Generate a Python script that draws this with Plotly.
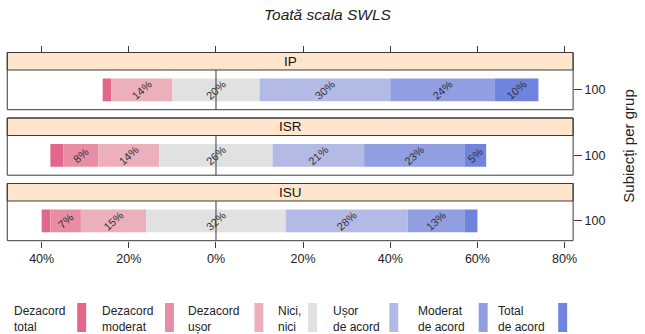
import plotly.graph_objects as go

# ---- data -----------------------------------------------------------------
groups = ["IP", "ISR", "ISU"]
levels = ["Dezacord total", "Dezacord moderat", "Dezacord ușor", "Nici, nici",
          "Ușor de acord", "Moderat de acord", "Total de acord"]
legend_lines = [("Dezacord", "total"), ("Dezacord", "moderat"), ("Dezacord", "ușor"),
                ("Nici,", "nici"), ("Ușor", "de acord"), ("Moderat", "de acord"),
                ("Total", "de acord")]
pct_ip = [2, 0, 14, 20, 30, 24, 10]
pct_isr = [3, 8, 14, 26, 21, 23, 5]
pct_isu = [2, 7, 15, 32, 28, 13, 3]
subjects = ["100", "100", "100"]
tick_vals = [-40, -20, 0, 20, 40, 60, 80]
tick_text = ["40%", "20%", "0%", "20%", "40%", "60%", "80%"]

# ---- style ----------------------------------------------------------------
colors = ["#E2688B", "#E88DA3", "#ECAFBC", "#E1E1E1", "#B4BAE6", "#919EE2", "#6F84DE"]
FONT = "Liberation Sans, Arial, sans-serif"
W, H = 645, 334
FRAME = "#3a3a3a"
STRIP = "#FFE5CC"

# pixel layout of the panels
px_left, px_right = 7.3, 576.7
x_range = [-47.9, 81.96]
panel_top0, strip_h, plot_h, step = 52.5, 17.5, 39.7, 65.5


def py(v):
    return 1 - v / H


def pxx(v):
    return v / W


fig = go.Figure()
all_pct = [pct_ip, pct_isr, pct_isu]

for gi, vals in enumerate(all_pct):
    yname = "y" if gi == 0 else f"y{gi + 1}"
    n = vals[3]
    # bar starts: disagree side grows leftward from -n/2, agree side rightward from +n/2
    starts = [0] * 7
    starts[3] = -n / 2
    starts[2] = -n / 2 - vals[2]
    starts[1] = starts[2] - vals[1]
    starts[0] = starts[1] - vals[0]
    starts[4] = n / 2
    starts[5] = starts[4] + vals[4]
    starts[6] = starts[5] + vals[5]
    for li in range(7):
        v = vals[li]
        fig.add_trace(go.Bar(
            orientation="h",
            y=[subjects[gi]],
            x=[v],
            base=[starts[li]],
            width=0.572,
            marker=dict(color=colors[li], line=dict(width=0)),
            text=[f"{v}%" if v >= 5 else ""],
            textposition="inside",
            insidetextanchor="middle",
            textangle=-42,
            textfont=dict(family=FONT, size=11, color="#333333"),
            name=levels[li],
            showlegend=False,
            xaxis="x",
            yaxis=yname,
            cliponaxis=False,
        ))

shapes = []
annotations = []
layout_axes = {}

for gi, g in enumerate(groups):
    top = panel_top0 + gi * step
    strip_bot = top + strip_h
    bot = strip_bot + plot_h
    key = "yaxis" if gi == 0 else f"yaxis{gi + 1}"
    layout_axes[key] = dict(
        domain=[py(bot), py(strip_bot)],
        range=[-0.5, 0.5],
        side="right",
        anchor="x",
        ticks="outside",
        ticklen=8,
        tickcolor=FRAME,
        tickfont=dict(family=FONT, size=12.5, color="#222"),
        showgrid=False,
        zeroline=False,
        showline=False,
        fixedrange=True,
    )
    # strip
    shapes.append(dict(type="rect", xref="paper", yref="paper",
                       x0=pxx(px_left), x1=pxx(px_right), y0=py(strip_bot), y1=py(top),
                       fillcolor=STRIP, line=dict(color=FRAME, width=1), layer="below"))
    # panel frame
    shapes.append(dict(type="rect", xref="paper", yref="paper",
                       x0=pxx(px_left), x1=pxx(px_right), y0=py(bot), y1=py(top),
                       fillcolor="rgba(0,0,0,0)", line=dict(color=FRAME, width=1), layer="above"))
    # reference line at zero
    yref = "y" if gi == 0 else f"y{gi + 1}"
    shapes.append(dict(type="line", xref="x", yref=f"{yref} domain",
                       x0=0, x1=0, y0=0, y1=1,
                       line=dict(color=FRAME, width=1), layer="above"))
    annotations.append(dict(text=g, xref="paper", yref="paper",
                            x=pxx((px_left + px_right) / 2), y=py(top + strip_h / 2),
                            showarrow=False, xanchor="center", yanchor="middle",
                            font=dict(family=FONT, size=13.5, color="#111")))

# legend: two-line label followed by a colour swatch
legend_text_x = [13.3, 101.7, 188, 278.3, 334.3, 420, 500]
legend_swatch_x = [77.7, 166, 256, 310, 391.7, 481.7, 561.7]
for li in range(7):
    l1, l2 = legend_lines[li]
    annotations.append(dict(text=f"{l1}<br>{l2}", xref="paper", yref="paper",
                            x=pxx(legend_text_x[li]), y=py(318.5),
                            showarrow=False, xanchor="left", yanchor="middle",
                            align="left", borderpad=0,
                            font=dict(family=FONT, size=12, color="#222")))
    shapes.append(dict(type="rect", xref="paper", yref="paper",
                       x0=pxx(legend_swatch_x[li]), x1=pxx(legend_swatch_x[li] + 9),
                       y0=py(332), y1=py(303),
                       fillcolor=colors[li], line=dict(width=0)))

annotations.append(dict(text="Subiecți per grup", xref="paper", yref="paper",
                        x=pxx(633), y=py(146.6), textangle=-90,
                        showarrow=False, xanchor="center", yanchor="middle",
                        font=dict(family=FONT, size=15, color="#222")))
annotations.append(dict(text="<i>Toată scala SWLS</i>", xref="paper", yref="paper",
                        x=pxx(330), y=py(14),
                        showarrow=False, xanchor="center", yanchor="middle",
                        font=dict(family=FONT, size=15.5, color="#222")))

# invisible trace so the top tick axis is drawn
fig.add_trace(go.Scatter(x=[0], y=[subjects[0]], xaxis="x2", yaxis="y",
                         mode="markers", marker=dict(opacity=0), showlegend=False,
                         hoverinfo="skip"))

fig.update_layout(
    width=W, height=H,
    margin=dict(l=0, r=0, t=0, b=0),
    paper_bgcolor="white",
    plot_bgcolor="white",
    barmode="overlay",
    uniformtext=dict(minsize=11, mode="show"),
    showlegend=False,
    xaxis=dict(
        domain=[pxx(px_left), pxx(px_right)],
        range=x_range,
        anchor="y3",
        side="bottom",
        tickvals=tick_vals,
        ticktext=tick_text,
        ticks="outside",
        ticklen=6,
        tickcolor=FRAME,
        tickfont=dict(family=FONT, size=12.5, color="#222"),
        showgrid=False,
        zeroline=False,
        showline=False,
        fixedrange=True,
    ),
    xaxis2=dict(
        overlaying="x",
        matches="x",
        range=x_range,
        anchor="free",
        position=py(panel_top0),
        side="top",
        tickvals=tick_vals,
        ticks="outside",
        ticklen=7,
        tickcolor=FRAME,
        showticklabels=False,
        showgrid=False,
        zeroline=False,
        showline=False,
        fixedrange=True,
    ),
    shapes=shapes,
    annotations=annotations,
    **layout_axes,
)

fig.write_html("out.html")
